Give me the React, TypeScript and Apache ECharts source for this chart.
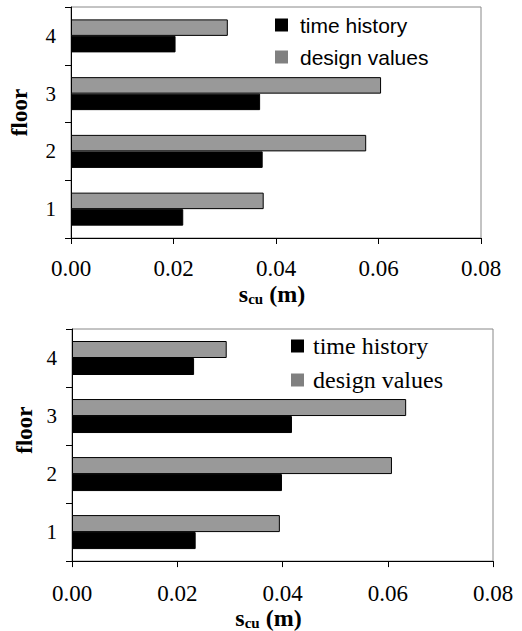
import React, { useEffect, useRef } from "react";
import * as echarts from "echarts";

const floors = ["1", "2", "3", "4"];
const topTimeHistory = [0.0219, 0.0374, 0.0369, 0.0204];
const topDesign = [0.0376, 0.0576, 0.0605, 0.0306];
const bottomTimeHistory = [0.0235, 0.0399, 0.0418, 0.0232];
const bottomDesign = [0.0395, 0.0608, 0.0635, 0.0294];
const xMin = 0;
const xMax = 0.08;
const xStep = 0.02;

const SERIF = "'Liberation Serif', 'Times New Roman', serif";
const SANS = "'Liberation Sans', Arial, sans-serif";

export default function App() {
  const ref = useRef<HTMLDivElement>(null);
  useEffect(() => {
    if (!ref.current) return;
    const chart = echarts.init(ref.current, null, { renderer: "svg" });
    const xName = "{s|s}{sub|cu}{s| (m)}";
    const nameRich = {
      s: { fontFamily: SERIF, fontWeight: "bold", fontSize: 24, color: "#000" },
      sub: { fontFamily: SERIF, fontWeight: "bold", fontSize: 15, color: "#000", verticalAlign: "bottom", padding: [8, 0, 0, 0] },
    };
    const mkX = (gridIndex: number, margin: number, nameGap: number, namePad: number[]) => ({
      type: "value",
      gridIndex,
      min: xMin,
      max: xMax,
      interval: xStep,
      name: xName,
      nameLocation: "middle",
      nameGap,
      nameTextStyle: { rich: nameRich, padding: namePad },
      axisLine: { show: true, lineStyle: { color: "#000", width: 1 } },
      axisTick: { show: true, length: 6, lineStyle: { color: "#000" } },
      axisLabel: {
        margin,
        fontFamily: SERIF,
        fontSize: 23,
        color: "#000",
        formatter: (v: number) => v.toFixed(2),
      },
      splitLine: { show: false },
    });
    const mkY = (gridIndex: number, margin: number, nameGap: number, namePad: number[]) => ({
      type: "category",
      gridIndex,
      data: floors,
      name: "floor",
      nameLocation: "middle",
      nameGap,
      nameRotate: 90,
      nameTextStyle: { fontFamily: SERIF, fontWeight: "bold", fontSize: 23, color: "#000", padding: namePad },
      axisLine: { show: true, lineStyle: { color: "#000", width: 1 } },
      axisTick: { show: true, length: 6, inside: false, lineStyle: { color: "#000" } },
      axisLabel: { margin, fontFamily: SERIF, fontSize: 21, color: "#000" },
    });
    const barCommon = (color: string, w: number) => ({
      type: "bar",
      barWidth: w,
      barGap: "0%",
      itemStyle: { color, borderColor: "#000", borderWidth: 1 },
    });
    chart.setOption({
      animation: false,
      backgroundColor: "#fff",
      grid: [
        { left: 69, right: 41, top: 7, height: 231, show: true, borderColor: "#888", borderWidth: 1, backgroundColor: "transparent" },
        { left: 72, right: 29, top: 329, height: 239, show: true, borderColor: "#888", borderWidth: 1, backgroundColor: "transparent" },
      ],
      legend: [
        {
          orient: "vertical",
          left: 275,
          top: 13,
          padding: 0,
          itemWidth: 13,
          itemHeight: 13,
          itemGap: 8,
          icon: "rect",
          data: [
            { name: "time history", itemStyle: { color: "#000", borderWidth: 0 } },
            { name: "design values", itemStyle: { color: "#808080", borderWidth: 0 } },
          ],
          textStyle: { fontFamily: SANS, fontSize: 21, color: "#000", lineHeight: 24, padding: [0, 0, 0, 7] },
          selectedMode: false,
        },
        {
          orient: "vertical",
          left: 291,
          top: 334,
          padding: 0,
          itemWidth: 13,
          itemHeight: 13,
          itemGap: 10,
          icon: "rect",
          data: [
            { name: "time history ", itemStyle: { color: "#000", borderWidth: 0 } },
            { name: "design values ", itemStyle: { color: "#808080", borderWidth: 0 } },
          ],
          formatter: (n: string) => n.trim(),
          textStyle: { fontFamily: SERIF, fontSize: 24, color: "#000", lineHeight: 24, padding: [0, 0, 0, 4] },
          selectedMode: false,
        },
      ],
      xAxis: [mkX(0, 19, 44, [0, 8, 0, 0]), mkX(1, 21, 42, [0, 28, 0, 0])],
      yAxis: [mkY(0, 15, 40, [0, 0, 0, 20]), mkY(1, 15, 36, [0, 0, 0, 30])],
      series: [
        { ...barCommon("#999", 16.5), name: "design values", xAxisIndex: 0, yAxisIndex: 0, data: topDesign },
        { ...barCommon("#000", 16.5), name: "time history", xAxisIndex: 0, yAxisIndex: 0, data: topTimeHistory },
        { ...barCommon("#999", 17), name: "design values ", xAxisIndex: 1, yAxisIndex: 1, data: bottomDesign },
        { ...barCommon("#000", 17), name: "time history ", xAxisIndex: 1, yAxisIndex: 1, data: bottomTimeHistory },
      ],
    });
    return () => chart.dispose();
  }, []);
  return (
    <div
      ref={ref}
      style={{ position: "absolute", left: 0, top: 0, width: 522, height: 631, background: "#fff" }}
    />
  );
}
